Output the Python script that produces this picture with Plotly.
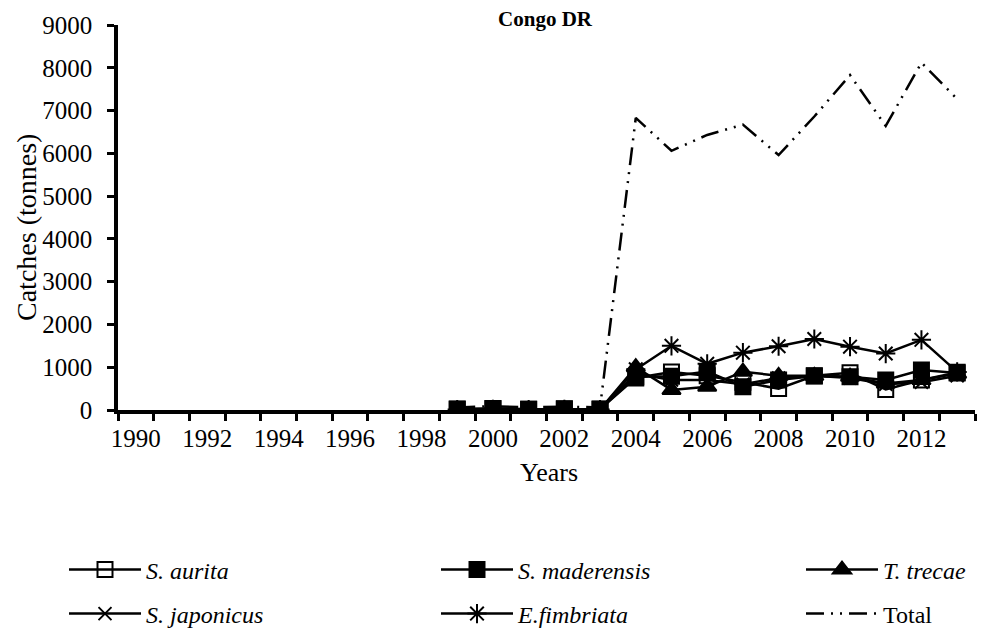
import plotly.graph_objects as go

# data
years = list(range(1999, 2014))
s_aurita = [20, 30, 15, 25, 20, 750, 890, 800, 650, 500, 800, 870, 480, 700, 880]
s_maderensis = [25, 35, 20, 30, 25, 780, 790, 900, 545, 700, 795, 780, 700, 935, 865]
t_trecae = [10, 15, 10, 15, 10, 1000, 470, 545, 895, 800, 800, 780, 620, 700, 850]
s_japonicus = [10, 15, 10, 15, 10, 850, 700, 700, 600, 750, 800, 750, 600, 650, 800]
e_fimbriata = [10, 15, 10, 15, 10, 950, 1500, 1080, 1340, 1490, 1660, 1480, 1320, 1640, 890]
total = [60, 90, 60, 80, 60, 6830, 6060, 6430, 6670, 5960, 6860, 7830, 6640, 8120, 7270]

tick_years = list(range(1990, 2013, 2))
bounds = [y - 0.5 for y in range(1990, 2015)]

FONT = "Liberation Serif"
# the page body adds an 8px margin, so the figure is sized to fit inside it
OFF = 8
W, H = 970, 626
PL, PR, PT, PB = 118, 975, 25, 410  # plot area in window pixels


def px_x(x):
    return (x - PL) / (PR - PL)


def px_y(y):
    return (PB - y) / (PB - PT)


series = [
    ("<i>S. aurita</i>", s_aurita, "square-open", 15, "legend"),
    ("<i>S. maderensis</i>", s_maderensis, "square", 15, "legend2"),
    ("<i>T. trecae</i>", t_trecae, "triangle-up", 16, "legend3"),
    ("<i>S. japonicus</i>", s_japonicus, "x-thin-open", 13, "legend4"),
    ("<i>E.fimbriata</i>", e_fimbriata, "asterisk-open", 16, "legend5"),
]

fig = go.Figure()
for name, vals, sym, size, leg in series:
    fig.add_trace(go.Scatter(
        x=years, y=vals, name=name, mode="lines+markers", legend=leg,
        line=dict(color="black", width=2.5),
        marker=dict(symbol=sym, size=size, color="black",
                    line=dict(color="black", width=2)),
    ))

fig.add_trace(go.Scatter(
    x=years, y=total, name="Total", mode="lines", legend="legend6",
    line=dict(color="black", width=2.5, dash="18px,7px,2px,7px,2px,7px"),
))

# legend positions: three columns, two rows (window pixels)
cols = [64, 436, 801]
rows = [570, 614]
legends = {}
for i, key in enumerate(["legend", "legend2", "legend3", "legend4", "legend5", "legend6"]):
    legends[key] = dict(
        xref="container", yref="container",
        x=(cols[i % 3] - OFF) / W, y=1 - (rows[i // 3] - OFF) / H,
        xanchor="left", yanchor="middle",
        itemwidth=72, bgcolor="rgba(0,0,0,0)",
        font=dict(family=FONT, size=24, color="black"),
    )

fig.update_layout(
    width=W, height=H,
    paper_bgcolor="white", plot_bgcolor="white",
    margin=dict(l=PL - OFF, r=W - (PR - OFF), t=PT - OFF, b=H - (PB - OFF),
                autoexpand=False),
    font=dict(family=FONT, size=24, color="black"),
    title=dict(text="<b>Congo DR</b>", x=(545 - OFF) / W, xanchor="center",
               y=1 - (19 - OFF) / H, yanchor="middle",
               font=dict(family=FONT, size=21, color="black")),
    showlegend=True,
    annotations=[
        dict(text="Years", x=px_x(549), y=px_y(472), xref="paper", yref="paper",
             xanchor="center", yanchor="middle", showarrow=False,
             font=dict(family=FONT, size=26, color="black")),
        dict(text="Catches (tonnes)", x=px_x(26), y=px_y(228), xref="paper",
             yref="paper", xanchor="center", yanchor="middle", showarrow=False,
             textangle=-90, font=dict(family=FONT, size=28, color="black")),
    ],
    **legends,
)

fig.update_xaxes(
    range=[1989.5, 2013.5], tickmode="array", tickvals=tick_years,
    ticks="", showgrid=False, zeroline=False,
    showline=True, linecolor="black", linewidth=3.5,
    ticklabelstandoff=3,
    tickfont=dict(family=FONT, size=25, color="black"),
    minor=dict(tickmode="array", tickvals=bounds, ticks="outside",
               ticklen=7, tickwidth=3, tickcolor="black", showgrid=False),
)

fig.update_yaxes(
    range=[0, 9000], dtick=1000, ticks="outside", ticklen=7, tickwidth=3,
    tickcolor="black", showgrid=False, zeroline=False,
    showline=True, linecolor="black", linewidth=3.5,
    ticklabelstandoff=10,
    tickfont=dict(family=FONT, size=25, color="black"),
)

fig.write_html("out.html")
